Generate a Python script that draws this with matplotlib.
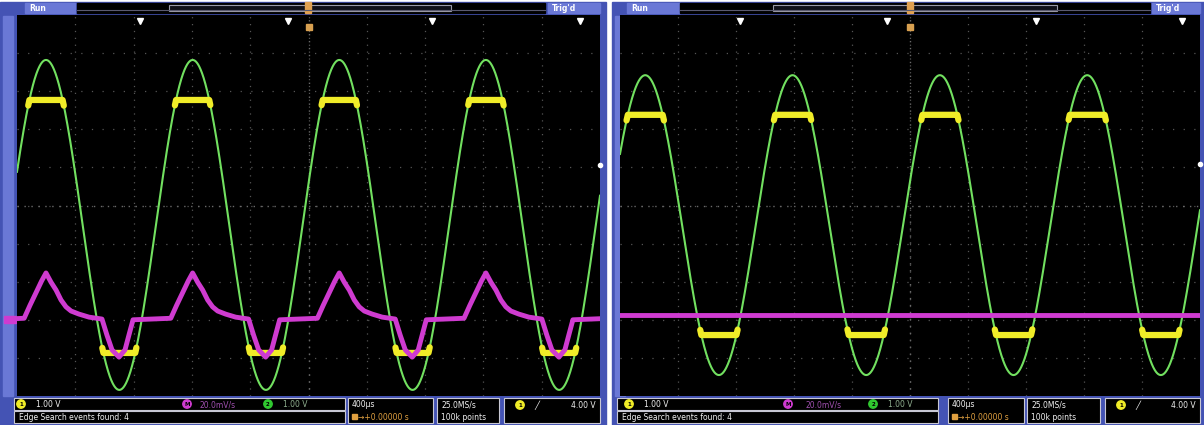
import numpy as np
import matplotlib.pyplot as plt
from matplotlib.patches import Rectangle, Circle

W, H = 1204, 425

# scope settings: 400 us/div, 10 x 10 divisions
t_lim = (-2000, 2000)
v_lim = (-5, 5)

# left capture (channel 1 clipped, math trace active)
left_period = 1006           # us
left_peak_t = -1801          # first green peak, us
left_green = (-0.51, 4.33)   # offset, amplitude (div)
left_clip = (-3.87, 2.77)    # yellow clip levels (div)
left_events = [-1156, -141, 847, 1863]
left_trig_level = 1.06

# magenta shape around each green peak (us from peak, div)
mag_dt = [-150, -110, -70, -30, 0, 34, 69, 103, 137, 172, 226, 295,
          384, 418, 453, 501, 542, 569, 597, 856]
mag_lv = [-2.96, -2.62, -2.30, -1.98, -1.77, -2.01, -2.22, -2.48, -2.66, -2.77, -2.85, -2.93,
          -2.98, -3.40, -3.79, -3.98, -3.79, -3.40, -3.00, -2.96]

# right capture (flat math trace)
right_period = 1016
right_peak_t = -1826
right_green = (-0.515, 3.935)
right_clip = (-3.40, 2.38)
right_mag = -2.87
right_events = [-1172, -159, 869, 1876]
right_trig_level = 1.10

# status bar texts
ch_scale = ["1.00 V", "20.0mV/s", "1.00 V"]
timebase = "400\u03bcs"
delay = "\u2192+0.00000 s"
srate = ["25.0MS/s", "100k points"]
trig = "4.00 V"
search = "Edge Search events found: 4"

BLUE = "#4453b4"
LBLUE = "#6a78d6"
GREEN = "#72e060"
YELLOW = "#f0ec28"
MAGENTA = "#cf3bd0"
GRID = "#555555"

fig = plt.figure(figsize=(W / 100, H / 100), dpi=100, facecolor="white")
bg = fig.add_axes([0, 0, 1, 1])
bg.set_xlim(0, W)
bg.set_ylim(H, 0)
bg.axis("off")


def frame(x0, x1, run_box, bar, rec, trig_box, trig_x):
    bg.add_patch(Rectangle((x0, 2), x1 - x0, H - 2, color=BLUE))
    bg.add_patch(Rectangle((x0 + 3, 16), 10, 380, color=LBLUE))
    bg.add_patch(Rectangle((run_box[0], 3), run_box[1] - run_box[0], 10, color=LBLUE))
    bg.text(run_box[0] + 4, 8, "Run", color="white", fontsize=5.5, fontweight="bold", va="center")
    bg.add_patch(Rectangle((bar[0], 3), bar[1] - bar[0], 10, color="black"))
    bg.add_patch(Rectangle((rec[0], 5), rec[1] - rec[0], 6, facecolor="#101018",
                           edgecolor="#9a9aa8", lw=0.8))
    bg.plot([bar[0], bar[1]], [10, 10], color="#5a5a70", lw=0.8)
    bg.add_patch(Rectangle((trig_box[0], 3), trig_box[1] - trig_box[0], 10, color=LBLUE))
    bg.text(trig_box[0] + 4, 8, "Trig'd", color="white", fontsize=5.5, fontweight="bold", va="center")
    bg.add_patch(Rectangle((trig_x - 3, 2), 6, 11, color="#e0a050"))


def status(boxes, circ, circ_txt_x):
    a, b, c, d, e = boxes
    for (x, y, w, h) in boxes:
        bg.add_patch(Rectangle((x, y), w, h, facecolor="black", edgecolor="#c8c8d4", lw=0.8))
    cols = [YELLOW, MAGENTA, "#30c830"]
    labels = ["1", "M", "2"]
    tcols = ["#f0f0f0", "#a050b0", "#90b090"]
    for cx, tx, col, lab, txt, tc in zip(circ, circ_txt_x, cols, labels, ch_scale, tcols):
        bg.add_patch(Circle((cx, 404), 4.2, color=col))
        bg.text(cx, 404.5, lab, color="black", fontsize=4, ha="center", va="center", fontweight="bold")
        bg.text(tx, 404.5, txt, color=tc, fontsize=5.5, va="center")
    bg.text(a[0] + 5, 417, search, color="#f0f0f0", fontsize=5.5, va="center")
    bg.text(c[0] + 4, 404.5, timebase, color="#f0f0f0", fontsize=5.5, va="center")
    bg.add_patch(Rectangle((c[0] + 4, 414), 5, 5, color="#e0a040"))
    bg.text(c[0] + 10, 417, delay, color="#e0a040", fontsize=5.5, va="center")
    bg.text(d[0] + 4, 404.5, srate[0], color="#f0f0f0", fontsize=5.5, va="center")
    bg.text(d[0] + 4, 417, srate[1], color="#f0f0f0", fontsize=5.5, va="center")
    bg.add_patch(Circle((e[0] + 16, 405), 4.2, color=YELLOW))
    bg.text(e[0] + 16, 405.5, "1", color="black", fontsize=4, ha="center", va="center", fontweight="bold")
    bg.text(e[0] + 30, 405, "\u2571", color="#f0f0f0", fontsize=6, va="center")
    bg.text(e[0] + e[2] - 4, 405, trig, color="#f0f0f0", fontsize=5.5, va="center", ha="right")


def scope_axes(x0, x1):
    ax = fig.add_axes([x0 / W, (H - 396) / H, (x1 - x0) / W, 381 / H], zorder=2)
    ax.set_facecolor("black")
    ax.set_xlim(*t_lim)
    ax.set_ylim(*v_lim)
    ax.set_xticks([])
    ax.set_yticks([])
    for s in ax.spines.values():
        s.set_visible(False)
    for i in range(-4, 5):
        ax.axvline(i * 400, color=GRID, lw=0.9, ls=(0, (1, 4.5)), zorder=0)
        ax.axhline(i, color=GRID, lw=0.9, ls=(0, (1, 7.5)), zorder=0)
    ax.axvline(0, color="#6a6a6a", lw=1, ls=(0, (1, 4)), zorder=0)
    ax.axhline(0, color="#6a6a6a", lw=1, ls=(0, (1, 4)), zorder=0)
    return ax


def traces(ax, period, peak_t, green_par, clip, events, trig_level):
    t = np.linspace(t_lim[0], t_lim[1], 4000)
    off, amp = green_par
    g = off + amp * np.cos(2 * np.pi * (t - peak_t) / period)
    y = np.clip(g, clip[0], clip[1])
    y = np.where((g > clip[1] - 0.15) | (g < clip[0] + 0.15), y, np.nan)
    ax.plot(t, g, color=GREEN, lw=1.5, zorder=3)
    ax.plot(t, y, color=YELLOW, lw=4.5, zorder=4, solid_capstyle="round")
    ax.plot(events, [4.85] * len(events), "v", color="white", ms=4.5, clip_on=False, zorder=6)
    ax.plot([0], [4.68], "s", color="#d8a050", ms=4, zorder=6)
    ax.plot([t_lim[1]], [trig_level], "o", color="white", ms=3, clip_on=False, zorder=6)


# left panel
frame(0, 606, (25, 75), (77, 545), (169, 451), (548, 600), 308)
status([(14, 398, 331, 12), (14, 411, 331, 12), (348, 398, 85, 25),
        (437, 398, 62, 25), (504, 398, 96, 25)],
       [21, 187, 268], [36, 200, 283])
axl = scope_axes(17, 600)
traces(axl, left_period, left_peak_t, left_green, left_clip, left_events, left_trig_level)
mt, mv = [], []
for k in range(-1, 5):
    mt += [left_peak_t + k * left_period + d for d in mag_dt]
    mv += mag_lv
axl.plot(mt, mv, color=MAGENTA, lw=3.5, zorder=5, solid_joinstyle="round")
bg.add_patch(Rectangle((4, 316), 12, 7, color=MAGENTA))

# right panel
frame(612, W, (627, 680), (680, 1150), (773, 1057), (1152, 1200), 910)
status([(617, 398, 321, 12), (617, 411, 321, 12), (948, 398, 76, 25),
        (1027, 398, 73, 25), (1105, 398, 95, 25)],
       [629, 788, 873], [644, 805, 888])
axr = scope_axes(620, 1200)
traces(axr, right_period, right_peak_t, right_green, right_clip, right_events, right_trig_level)
axr.plot(t_lim, [right_mag, right_mag], color=MAGENTA, lw=3.5, zorder=5)

fig.savefig("out.png", dpi=100, facecolor="white")
